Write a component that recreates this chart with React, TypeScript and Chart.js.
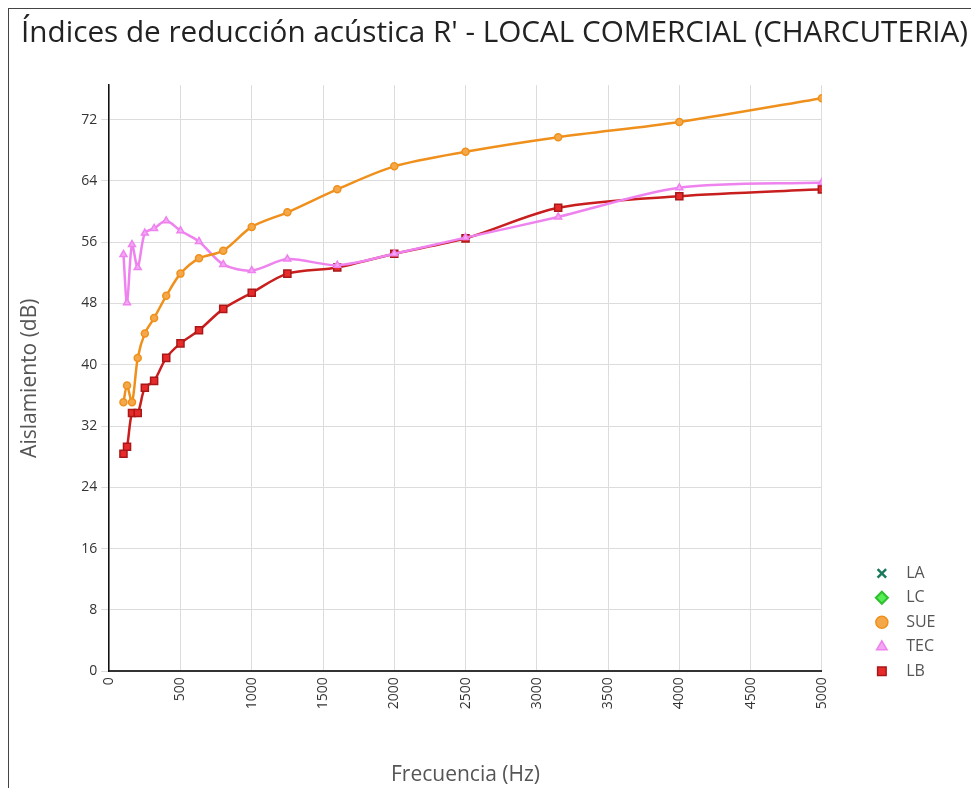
import React, { useEffect, useRef } from "react";
import { Chart, registerables } from "chart.js";

Chart.register(...registerables);

const FREQS = [100, 125, 160, 200, 250, 315, 400, 500, 630, 800, 1000, 1250, 1600, 2000, 2500, 3150, 4000, 5000];
const LA: number[] = [];
const LC: number[] = [];
const SUE = [35.1, 37.3, 35.1, 40.9, 44.1, 46.1, 49.0, 51.9, 53.9, 54.9, 58.0, 59.9, 62.9, 65.9, 67.8, 69.7, 71.7, 74.8];
const TEC = [54.4, 48.1, 55.7, 52.7, 57.2, 57.8, 58.8, 57.5, 56.1, 53.1, 52.3, 53.8, 53.0, 54.5, 56.6, 59.3, 63.1, 63.8];
const LB = [28.4, 29.3, 33.7, 33.7, 37.0, 37.9, 40.9, 42.8, 44.5, 47.3, 49.4, 51.9, 52.7, 54.5, 56.5, 60.5, 62.0, 62.9];

const TITLE = "Índices de reducción acústica R' - LOCAL COMERCIAL (CHARCUTERIA)";
const X_TITLE = "Frecuencia (Hz)";
const Y_TITLE = "Aislamiento (dB)";

const FONT = "'Open Sans', 'Noto Sans', sans-serif";

function pts(values: number[]) {
  return values.map((v, i) => ({ x: FREQS[i], y: v }));
}

const legendPlacer = {
  id: "legendPlacer",
  beforeDraw(chart: any) {
    // let the title use the full canvas width (no horizontal squeezing)
    if (chart.titleBlock) chart.titleBlock.right = chart.width;
    const lg = chart.legend;
    if (!lg) return;
    const w = lg.width;
    const h = lg.height;
    lg.left = chart.chartArea.right + 43.5;
    lg.right = lg.left + w;
    lg.bottom = chart.chartArea.bottom + 16.5;
    lg.top = lg.bottom - h;
  },
};

export default function App() {
  const ref = useRef<HTMLCanvasElement | null>(null);

  useEffect(() => {
    if (!ref.current) return;
    const chart = new Chart(ref.current, {
      type: "line",
      data: {
        datasets: [
          {
            label: "LA",
            data: pts(LA),
            borderColor: "#1b7a5e",
            backgroundColor: "#1b7a5e",
            pointStyle: "crossRot",
            pointRadius: 5,
            borderWidth: 2.5,
          },
          {
            label: "LC",
            data: pts(LC),
            borderColor: "#2fc02f",
            backgroundColor: "#55ee55",
            pointStyle: "rectRot",
            pointRadius: 5,
            borderWidth: 2,
          },
          {
            label: "SUE",
            data: pts(SUE),
            borderColor: "#f0901c",
            backgroundColor: "#f5a84a",
            pointStyle: "circle",
            pointRadius: 3.5,
            pointBorderWidth: 1.5,
            borderWidth: 2.5,
            tension: 0.3,
          },
          {
            label: "TEC",
            data: pts(TEC),
            borderColor: "#ee82ee",
            backgroundColor: "#f4a8f4",
            pointStyle: "triangle",
            pointRadius: 4,
            pointBorderWidth: 1.5,
            borderWidth: 2.5,
            tension: 0.3,
          },
          {
            label: "LB",
            data: pts(LB),
            borderColor: "#c81e1e",
            backgroundColor: "#e82a2a",
            pointBorderColor: "#a81818",
            pointStyle: "rect",
            pointRadius: 5,
            pointBorderWidth: 1.5,
            borderWidth: 2.5,
            tension: 0.3,
          },
        ],
      },
      options: {
        animation: false,
        responsive: true,
        maintainAspectRatio: false,
        layout: { padding: { left: 12, right: 77, top: 0, bottom: 0.5 } },
        plugins: {
          title: {
            display: true,
            text: TITLE,
            align: "start",
            color: "#222",
            font: { family: FONT, size: 29.7, weight: 400 },
            padding: { top: 7, bottom: 33.5 },
          },
          legend: {
            position: "right",
            align: "end",
            fullSize: false,
            labels: {
              usePointStyle: true,
              boxWidth: 16,
              boxHeight: 8.5,
              padding: 8.5,
              color: "#555",
              font: { family: FONT, size: 16 },
              generateLabels: (chart: any) =>
                Chart.defaults.plugins.legend.labels
                  .generateLabels(chart)
                  .map((item: any) => ({ ...item, text: "  " + item.text })),
            },
          },
          tooltip: { enabled: false },
        },
        scales: {
          x: {
            type: "linear",
            min: 0,
            max: 5000,
            ticks: {
              stepSize: 500,
              minRotation: 90,
              maxRotation: 90,
              color: "#333",
              font: { family: FONT, size: 14 },
              padding: 6,
              callback: (v: any) => String(v),
            },
            grid: { color: "#dcdcdc", drawTicks: false },
            border: { color: "#333", width: 2 },
            title: {
              display: true,
              text: X_TITLE,
              color: "#555",
              font: { family: FONT, size: 21, weight: 400 },
              padding: { top: 47, bottom: 0 },
            },
          },
          y: {
            min: 0,
            max: 76.5,
            ticks: {
              stepSize: 8,
              includeBounds: false,
              color: "#333",
              font: { family: FONT, size: 14 },
              padding: 4,
              callback: (v: any) => String(v),
            },
            grid: { color: "#dcdcdc", tickLength: 8 },
            border: { color: "#111", width: 1.5 },
            title: {
              display: true,
              text: Y_TITLE,
              color: "#555",
              font: { family: FONT, size: 21, weight: 400 },
              padding: { top: -4, bottom: 35 },
            },
          },
        },
      },
      plugins: [legendPlacer],
    });
    return () => chart.destroy();
  }, []);

  return (
    <div
      style={{
        borderLeft: "1px solid #444",
        borderTop: "1px solid #444",
        width: 970,
        height: 779,
        boxSizing: "content-box",
        position: "relative",
      }}
    >
      <canvas ref={ref} />
    </div>
  );
}
